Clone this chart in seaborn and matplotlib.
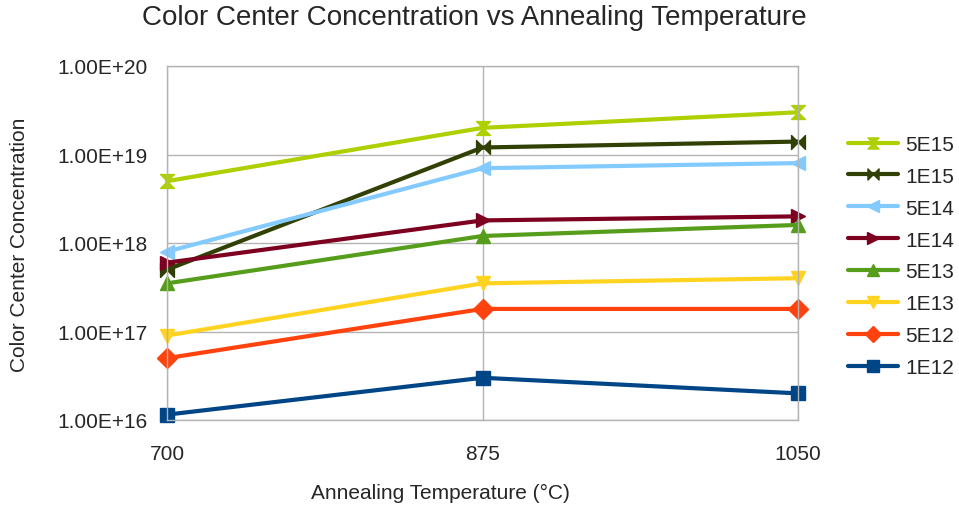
import numpy as np
import pandas as pd
import matplotlib
matplotlib.use('Agg')
import matplotlib.pyplot as plt
from matplotlib.path import Path
from matplotlib.ticker import FixedLocator, FuncFormatter
import seaborn as sns

# Data
temperatures = ['700', '875', '1050']
doses = ['1E12', '5E12', '1E13', '5E13', '1E14', '5E14', '1E15', '5E15']
conc_1e12 = [1.15e16, 3.0e16, 2.0e16]
conc_5e12 = [5.0e16, 1.8e17, 1.8e17]
conc_1e13 = [9.0e16, 3.5e17, 4.0e17]
conc_5e13 = [3.5e17, 1.2e18, 1.6e18]
conc_1e14 = [6.0e17, 1.8e18, 2.0e18]
conc_5e14 = [8.0e17, 7.0e18, 8.0e18]
conc_1e15 = [5.0e17, 1.2e19, 1.4e19]
conc_5e15 = [5.0e18, 2.0e19, 3.0e19]
series = [conc_1e12, conc_5e12, conc_1e13, conc_5e13,
          conc_1e14, conc_5e14, conc_1e15, conc_5e15]

colors = ['#004586', '#ff420e', '#ffd320', '#579d1c',
          '#7e0021', '#83caff', '#314004', '#aecf00']

# bowtie / hourglass markers like LibreOffice
bowtie = Path([(-1, -1), (1, 1), (1, -1), (-1, 1), (-1, -1)],
              [Path.MOVETO, Path.LINETO, Path.LINETO, Path.LINETO, Path.CLOSEPOLY])
hourglass = Path([(-1, -1), (1, -1), (-1, 1), (1, 1), (-1, -1)],
                 [Path.MOVETO, Path.LINETO, Path.LINETO, Path.LINETO, Path.CLOSEPOLY])
markers = ['s', 'D', 'v', '^', '>', '<', bowtie, hourglass]

rows = []
for dose, vals in zip(doses, series):
    for i, (t, v) in enumerate(zip(temperatures, vals)):
        rows.append({'pos': i, 'temp': t, 'dose': dose, 'conc': v})
df = pd.DataFrame(rows)

sns.set_style('white')
plt.rcParams['font.family'] = ['Liberation Sans', 'DejaVu Sans']

W, H = 959, 510
fig = plt.figure(figsize=(W / 100, H / 100), dpi=100)
ax = fig.add_axes([167 / W, 1 - 421 / H, 631 / W, 354 / H])

sns.lineplot(data=df, x='pos', y='conc', hue='dose', style='dose',
             hue_order=doses[::-1], style_order=doses[::-1],
             palette=dict(zip(doses, colors)),
             markers=dict(zip(doses, markers)), dashes=False,
             linewidth=3, markersize=10, markeredgewidth=1,
             ax=ax, legend=True)
for line in ax.lines:
    line.set_markeredgecolor(line.get_color())
    line.set_clip_on(False)

ax.set_yscale('log')
ax.set_ylim(1e16, 1e20)
ax.set_xlim(0, 2)
ax.yaxis.set_major_locator(FixedLocator([1e16, 1e17, 1e18, 1e19, 1e20]))
ax.yaxis.set_minor_locator(FixedLocator([]))
ax.yaxis.set_major_formatter(FuncFormatter(lambda v, p: f'{v:.2E}'))
ax.set_xticks(range(len(temperatures)))
ax.set_xticklabels(temperatures)
ax.grid(True, color='#b3b3b3', linewidth=1)
ax.set_axisbelow(True)
for s in ax.spines.values():
    s.set_color('#b3b3b3')
    s.set_linewidth(1)
ax.tick_params(axis='both', length=5, color='#b3b3b3', labelsize=15)
ax.tick_params(axis='x', pad=12)
ax.tick_params(axis='y', pad=9)
ax.set_xlabel('')
ax.set_ylabel('')

fig.text(474 / W, 1 - 18 / H, 'Color Center Concentration vs Annealing Temperature',
         fontsize=20, ha='center', va='center')
fig.text(440 / W, 1 - 493 / H, 'Annealing Temperature (°C)',
         fontsize=15, ha='center', va='center')
fig.text(20 / W, 1 - 245 / H, 'Color Center Concentration',
         fontsize=15, ha='center', va='center', rotation=90)

handles, labels = ax.get_legend_handles_labels()
ax.legend(handles, labels, loc='center left', bbox_to_anchor=(848 / W, 1 - 257 / H),
          bbox_transform=fig.transFigure, borderpad=0, borderaxespad=0,
          frameon=False, fontsize=15, labelspacing=0.62, handlelength=2.4,
          handletextpad=0.35, markerscale=0.8)

fig.savefig('out.png', dpi=100)
